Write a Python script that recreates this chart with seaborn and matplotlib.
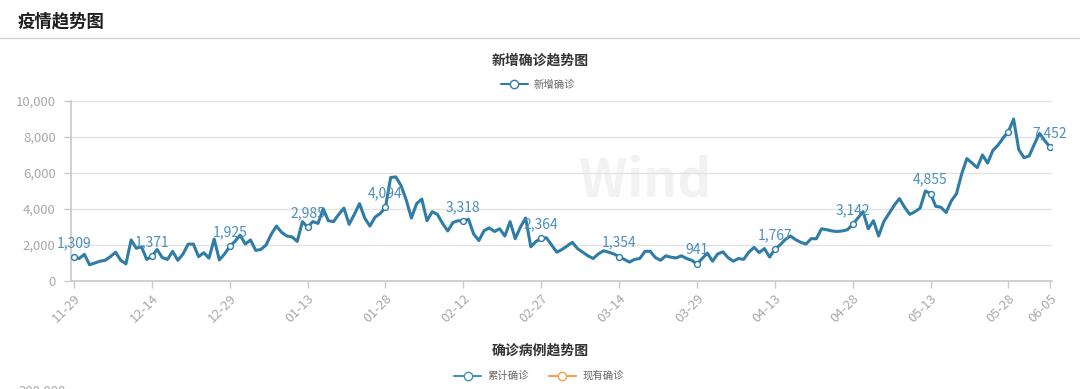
import numpy as np
import pandas as pd
import matplotlib
matplotlib.use("Agg")
import matplotlib.pyplot as plt
from matplotlib.lines import Line2D
from matplotlib.ticker import FuncFormatter
import seaborn as sns

# daily new confirmed cases, 11-29 .. 06-05
start_date = "2021-11-29"
end_date = "2022-06-05"
new_cases = [
    1309, 1250, 1480, 900, 1000, 1100, 1150, 1350, 1600, 1150,
    950, 2280, 1820, 1900, 1200, 1371, 1750, 1300, 1200, 1650,
    1150, 1500, 2050, 2050, 1350, 1570, 1270, 2330, 1170, 1500,
    1925, 2200, 2550, 2050, 2280, 1700, 1750, 2000, 2600, 3050,
    2700, 2500, 2450, 2200, 3300, 2985, 3300, 3200, 4000, 3350,
    3300, 3700, 4050, 3150, 3700, 4300, 3500, 3050, 3550, 3750,
    4094, 5750, 5780, 5300, 4500, 3500, 4300, 4550, 3350, 3850,
    3700, 3200, 2780, 3250, 3350, 3318, 3430, 2600, 2250, 2800,
    2950, 2750, 2900, 2500, 3300, 2350, 3000, 3500, 1900, 2200,
    2364, 2400, 2000, 1600, 1750, 1950, 2150, 1800, 1600, 1400,
    1250, 1500, 1680, 1600, 1500, 1354, 1200, 1050, 1200, 1250,
    1650, 1650, 1300, 1150, 1400, 1320, 1280, 1400, 1250, 1150,
    941, 1250, 1550, 1100, 1500, 1620, 1300, 1100, 1250, 1200,
    1600, 1870, 1580, 1800, 1330, 1767, 2000, 2300, 2500, 2300,
    2150, 2050, 2350, 2350, 2900, 2850, 2780, 2750, 2780, 2850,
    3142, 3500, 3850, 2900, 3350, 2500, 3300, 3750, 4200, 4580,
    4100, 3700, 3850, 4050, 5000, 4855, 4150, 4100, 3800, 4450,
    4850, 5950, 6800, 6550, 6300, 7000, 6550, 7250, 7550, 7950,
    8300, 9000, 7300, 6850, 6950, 7600, 8200, 7800, 7452,
]
label_days = [0, 15, 30, 45, 60, 75, 90, 105, 120, 135, 150, 165, 188]
circle_days = label_days + [180]
tick_days = [0, 15, 30, 45, 60, 75, 90, 105, 120, 135, 150, 165, 180, 188]

dates = pd.date_range(start_date, end_date, freq="D")
df = pd.DataFrame({"day": np.arange(len(dates)),
                   "date": dates.strftime("%m-%d"),
                   "new": new_cases})

sns.set_style("white")
plt.rcParams["font.family"] = ["Noto Sans CJK SC", "DejaVu Sans"]

line_c = "#2f7ca6"
label_c = "#4a8fbb"
grid_c = "#e3e3e3"
axis_c = "#c8c8c8"
tick_c = "#a8a8a8"
orange = "#f5a04a"

W, H = 1080, 389
fig = plt.figure(figsize=(W / 100, H / 100), dpi=100)

def fy(px):
    return 1 - px / H

# page header
fig.text(18 / W, fy(21), "疫情趋势图", fontsize=12.5, fontweight="bold",
         color="#1e1e1e", ha="left", va="center")
fig.add_artist(Line2D([0, 1], [fy(37.5), fy(37.5)], color="#d4d4d4", lw=1))

# chart 1
ax = fig.add_axes([71 / W, fy(281), 981 / W, 180 / H])
ax.text(0.585, 0.55, "Wind", transform=ax.transAxes, fontsize=38,
        fontweight="bold", color="#f2f2f2", ha="center", va="center", zorder=0)
sns.lineplot(data=df, x="day", y="new", ax=ax, color=line_c, linewidth=2.2,
             zorder=2, solid_joinstyle="round", solid_capstyle="round")
pts = df.iloc[circle_days]
ax.scatter(pts["day"], pts["new"], s=18, facecolor="white", edgecolor=line_c,
           linewidth=1, zorder=3)
for _, r in df.iloc[label_days].iterrows():
    ax.annotate(f"{r['new']:,}", (r["day"], r["new"]), xytext=(0, 5),
                textcoords="offset points", ha="center", va="bottom",
                color=label_c, fontsize=10, zorder=4)

ax.set_xlim(-0.58, 188.4)
ax.set_ylim(0, 10000)
ax.set_yticks(range(0, 10001, 2000))
ax.yaxis.set_major_formatter(FuncFormatter(lambda v, p: f"{int(v):,}"))
ax.set_xticks(tick_days)
ax.set_xticklabels(df["date"].iloc[tick_days], rotation=45, ha="right",
                   rotation_mode="anchor")
ax.set_xlabel("")
ax.set_ylabel("")
ax.grid(axis="y", color=grid_c, linewidth=1)
ax.set_axisbelow(True)
for s in ["top", "right"]:
    ax.spines[s].set_visible(False)
for s in ["left", "bottom"]:
    ax.spines[s].set_color(axis_c)
    ax.spines[s].set_linewidth(1.2)
ax.tick_params(axis="both", colors=axis_c, labelcolor=tick_c, labelsize=9.5,
               length=5, width=1, left=True, bottom=True)
ax.tick_params(axis="y", pad=6)
ax.tick_params(axis="x", pad=3)

fig.text(0.5, fy(61), "新增确诊趋势图", fontsize=10, fontweight="bold",
         color="#333333", ha="center", va="center")
h1 = Line2D([], [], color=line_c, lw=1.5, marker="o", markersize=6,
            markerfacecolor="white", markeredgecolor=line_c)
fig.legend([h1], ["新增确诊"], loc="center", bbox_to_anchor=(538 / W, fy(85)),
           frameon=False, fontsize=7.5, labelcolor="#666666", handlelength=2.6,
           handletextpad=0.6, borderaxespad=0)

# chart 2 header (cut off below)
fig.text(0.5, fy(351), "确诊病例趋势图", fontsize=10, fontweight="bold",
         color="#333333", ha="center", va="center")
h2 = Line2D([], [], color=label_c, lw=1.5, marker="o", markersize=6,
            markerfacecolor="white", markeredgecolor=label_c)
h3 = Line2D([], [], color=orange, lw=1.5, marker="o", markersize=6,
            markerfacecolor="white", markeredgecolor=orange)
fig.legend([h2, h3], ["累计确诊", "现有确诊"], loc="center",
           bbox_to_anchor=(539 / W, fy(376)), ncol=2, frameon=False,
           fontsize=7.5, labelcolor="#666666", handlelength=2.6,
           handletextpad=0.6, columnspacing=1.9, borderaxespad=0)
fig.text(18 / W, fy(385), "200,000", fontsize=9.5, color=tick_c,
         ha="left", va="top")

fig.savefig("out.png", dpi=100)
